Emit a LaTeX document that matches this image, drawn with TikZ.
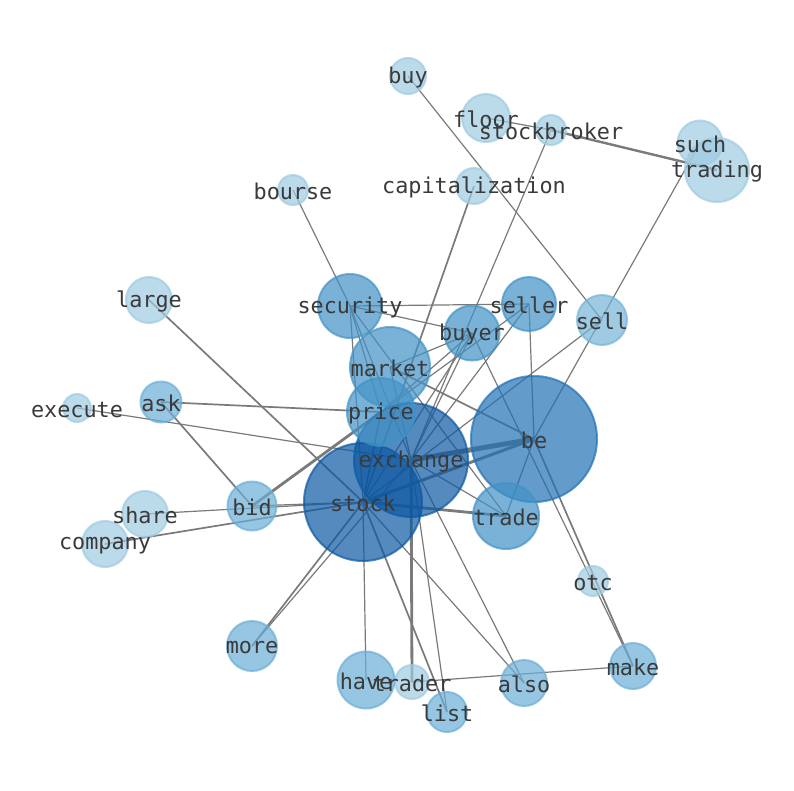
\documentclass[tikz,border=0pt]{standalone}
\usepackage{fontspec}
\setmonofont{DejaVu Sans Mono}
\pgfdeclarelayer{bg}
\pgfsetlayers{bg,main}
\definecolor{cA}{HTML}{9ECAE1}
\definecolor{cB}{HTML}{6BAED6}
\definecolor{cC}{HTML}{4292C6}
\definecolor{cD}{HTML}{2171B5}
\definecolor{cE}{HTML}{0D58A2}
\definecolor{lbl}{HTML}{3A3A3A}
\definecolor{edgegray}{HTML}{7A7A7A}
\tikzset{
  bub/.style={circle, inner sep=0pt, minimum size=#1, line width=2pt, fill opacity=.7, draw opacity=.7},
  lab/.style={font=\fontsize{21.8}{24}\selectfont\ttfamily, text=lbl, inner sep=0pt, yshift=-1.5pt},
  ed/.style={draw=edgegray, line width=#1},
}
\begin{document}
\begin{tikzpicture}[x=1pt,y=-1pt]
\useasboundingbox (0,0) rectangle (794,790);
% nodes
\node[bub=36pt, fill=cA, draw=cA] (buy) at (408,76) {};
\node[bub=48pt, fill=cA, draw=cA] (floor) at (486,118) {};
\node[bub=30pt, fill=cA, draw=cA] (stockbroker) at (551,130) {};
\node[bub=64pt, fill=cA, draw=cA] (trading) at (717,170) {};
\node[bub=45pt, fill=cA, draw=cA] (such) at (700,143) {};
\node[bub=30pt, fill=cA, draw=cA] (bourse) at (293,190) {};
\node[bub=36pt, fill=cA, draw=cA] (capitalization) at (474,186) {};
\node[bub=46pt, fill=cA, draw=cA] (large) at (149,300) {};
\node[bub=28pt, fill=cA, draw=cA] (execute) at (77,408) {};
\node[bub=46pt, fill=cA, draw=cA] (share) at (145,514) {};
\node[bub=46pt, fill=cA, draw=cA] (company) at (105,544) {};
\node[bub=30pt, fill=cA, draw=cA] (otc) at (593,581) {};
\node[bub=34pt, fill=cA, draw=cA] (trader) at (412,682) {};
\node[bub=50pt, fill=cB!80!cA, draw=cB!80!cA] (sell) at (602,320) {};
\node[bub=41pt, fill=cB, draw=cB] (ask) at (161,402) {};
\node[bub=49pt, fill=cB, draw=cB] (bid) at (252,506) {};
\node[bub=50pt, fill=cB, draw=cB] (more) at (252,646) {};
\node[bub=57pt, fill=cB, draw=cB] (have) at (366,680) {};
\node[bub=46pt, fill=cB, draw=cB] (also) at (524,683) {};
\node[bub=46pt, fill=cB, draw=cB] (make) at (633,666) {};
\node[bub=40pt, fill=cB, draw=cB] (list) at (447,712) {};
\node[bub=64pt, fill=cC, draw=cC] (security) at (350,306) {};
\node[bub=54pt, fill=cC, draw=cC] (seller) at (529,304) {};
\node[bub=55pt, fill=cC, draw=cC] (buyer) at (472,333) {};
\node[bub=80pt, fill=cC, draw=cC] (market) at (390,367) {};
\node[bub=126pt, fill=cD, draw=cD] (be) at (534,439) {};
\node[bub=66pt, fill=cC, draw=cC] (trade) at (506,516) {};
\node[bub=118pt, fill=cE, draw=cE] (stock) at (363,502) {};
\node[bub=114pt, fill=cE, draw=cE] (exchange) at (411,460) {};
\node[bub=68pt, fill=cC, draw=cC] (price) at (381,412) {};
% labels
\node[lab] (buy-t) at (buy) {buy};
\node[lab] (floor-t) at (floor) {floor};
\node[lab] (stockbroker-t) at (stockbroker) {stockbroker};
\node[lab] (such-t) at (such) {such};
\node[lab] (trading-t) at (trading) {trading};
\node[lab] (bourse-t) at (bourse) {bourse};
\node[lab] (capitalization-t) at (capitalization) {capitalization};
\node[lab] (large-t) at (large) {large};
\node[lab] (execute-t) at (execute) {execute};
\node[lab] (share-t) at (share) {share};
\node[lab] (company-t) at (company) {company};
\node[lab] (otc-t) at (otc) {otc};
\node[lab] (trader-t) at (trader) {trader};
\node[lab] (sell-t) at (sell) {sell};
\node[lab] (ask-t) at (ask) {ask};
\node[lab] (bid-t) at (bid) {bid};
\node[lab] (more-t) at (more) {more};
\node[lab] (have-t) at (have) {have};
\node[lab] (also-t) at (also) {also};
\node[lab] (make-t) at (make) {make};
\node[lab] (list-t) at (list) {list};
\node[lab] (security-t) at (security) {security};
\node[lab] (seller-t) at (seller) {seller};
\node[lab] (buyer-t) at (buyer) {buyer};
\node[lab] (market-t) at (market) {market};
\node[lab] (be-t) at (be) {be};
\node[lab] (trade-t) at (trade) {trade};
\node[lab] (stock-t) at (stock) {stock};
\node[lab] (exchange-t) at (exchange) {exchange};
\node[lab] (price-t) at (price) {price};
% edges
\begin{pgfonlayer}{bg}
\draw[ed=1.2pt] (buy.center) -- (sell.center);
\draw[ed=1.2pt] (floor.center) -- (stockbroker.center);
\draw[ed=2.4pt] (stockbroker.center) -- (trading.center);
\draw[ed=1.2pt] (stockbroker.center) -- (exchange.center);
\draw[ed=1.2pt] (such.center) -- (be.center);
\draw[ed=1.7pt] (capitalization.center) -- (stock.center);
\draw[ed=1.2pt] (bourse.center) -- (security.center);
\draw[ed=1.7pt] (large.center) -- (stock.center);
\draw[ed=1.2pt] (execute.center) -- (exchange.center);
\draw[ed=1.7pt] (ask.center) -- (price.center);
\draw[ed=1.7pt] (ask.center) -- (bid.center);
\draw[ed=2.8pt] (bid.center) -- (price.center);
\draw[ed=1.2pt] (bid.center) -- (stock.center);
\draw[ed=1.2pt] (share.center) -- (stock.center);
\draw[ed=1.7pt] (company.center) -- (stock.center);
\draw[ed=1.7pt] (more.center) -- (stock.center);
\draw[ed=1.2pt] (more.center) -- (exchange.center);
\draw[ed=1.2pt] (have.center) -- (stock.center);
\draw[ed=2.8pt] (trader.center) -- (exchange.center);
\draw[ed=1.2pt] (trader.center) -- (make.center);
\draw[ed=1.7pt] (list.center) -- (stock.center);
\draw[ed=1.2pt] (list.center) -- (exchange.center);
\draw[ed=1.2pt] (also.center) -- (stock.center);
\draw[ed=1.2pt] (also.center) -- (exchange.center);
\draw[ed=1.7pt] (be.center) -- (make.center);
\draw[ed=1.2pt] (buyer.center) -- (make.center);
\draw[ed=1.2pt] (security.center) -- (seller.center);
\draw[ed=1.2pt] (security.center) -- (buyer.center);
\draw[ed=1.2pt] (security.center) -- (stock.center);
\draw[ed=1.2pt] (security.center) -- (price.center);
\draw[ed=1.2pt] (security.center) -- (exchange.center);
\draw[ed=1.2pt] (security.center) -- (trade.center);
\draw[ed=1.2pt] (seller.center) -- (be.center);
\draw[ed=1.2pt] (seller.center) -- (price.center);
\draw[ed=1.2pt] (seller.center) -- (exchange.center);
\draw[ed=1.2pt] (buyer.center) -- (market.center);
\draw[ed=1.2pt] (buyer.center) -- (price.center);
\draw[ed=1.2pt] (buyer.center) -- (exchange.center);
\draw[ed=1.2pt] (buyer.center) -- (stock.center);
\draw[ed=1.7pt] (market.center) -- (be.center);
\draw[ed=1.2pt] (sell.center) -- (stock.center);
\draw[ed=5pt] (be.center) -- (exchange.center);
\draw[ed=3pt] (be.center) -- (stock.center);
\draw[ed=1.2pt] (be.center) -- (trade.center);
\draw[ed=2.8pt] (stock.center) -- (trade.center);
\draw[ed=1.2pt] (exchange.center) -- (trade.center);
\draw[ed=1.7pt] (stock.center) -- (price.center);
\draw[ed=1.2pt] (exchange.center) -- (market.center);
\end{pgfonlayer}
\end{tikzpicture}
\end{document}
